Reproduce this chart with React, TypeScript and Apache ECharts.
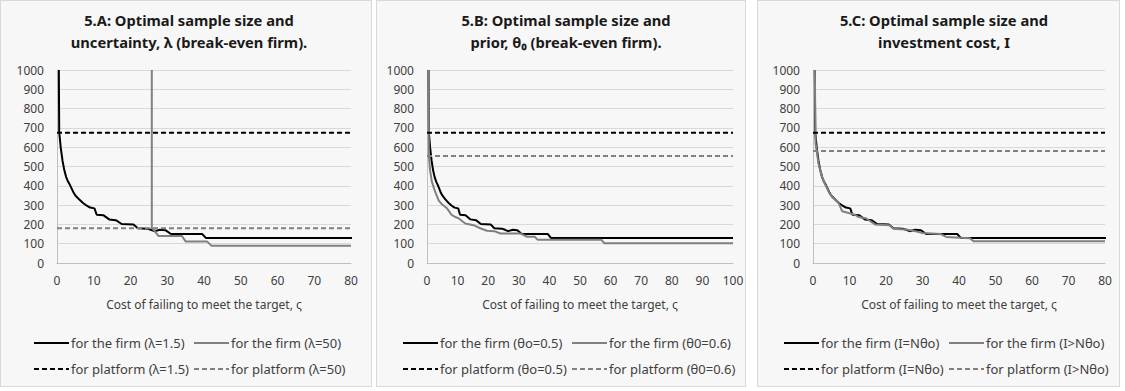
import { useEffect, useRef } from "react";
import * as echarts from "echarts";

const FONT = '"Noto Sans", "DejaVu Sans", sans-serif';

// Firm's optimal sample size, baseline (λ=1.5, θo=0.5, I=Nθo): [cost ς, sample size]
const firmBase: [number, number][] = [
  [0.5, 1000], [0.6, 680], [1, 600], [1.5, 530], [2, 480], [2.5, 445], [3, 422],
  [3.5, 405], [4, 385], [4.5, 365], [5, 350], [6, 330], [7, 312], [8, 298], [9, 287],
  [10.2, 283], [10.8, 250], [12.6, 248], [14.2, 226], [16, 222], [17.6, 202],
  [20.8, 200], [22, 180], [24.5, 178], [25.5, 172], [26.5, 165], [28, 172],
  [29.5, 170], [31, 150], [39.5, 150], [40.5, 130], [100, 130],
];
// Panel A: λ=50
const firmLambda50: [number, number][] = [
  [25.8, 1000], [25.8, 180], [26.5, 168], [27.6, 140], [34, 140], [35, 112],
  [40.8, 112], [42, 90], [80, 90],
];
// Panel B: θ0=0.6
const firmTheta06: [number, number][] = [
  [0.5, 1000], [0.6, 560], [1, 480], [1.6, 420], [2.7, 368], [3.8, 325], [4.9, 304],
  [6.5, 284], [8, 250], [9, 240], [10.3, 232], [12.5, 205], [15.2, 196], [17.4, 180],
  [19.6, 167], [22, 165], [24, 153], [30.5, 153], [32.7, 136], [35.2, 136],
  [36.2, 120], [57, 120], [58, 102], [100, 102],
];
// Panel C: I>Nθo
const firmInvHigh: [number, number][] = [
  [0.5, 1000], [0.7, 620], [1.5, 515], [2.5, 445], [3.5, 400], [4.5, 362], [5.5, 338],
  [7, 312], [8, 268], [10, 258], [11.5, 250], [12.5, 238], [14.5, 232], [17, 200],
  [21, 196], [22, 178], [26, 172], [28, 165], [30, 155], [35, 150], [36.5, 135],
  [43, 128], [44, 113], [80, 113],
];
// Platform optimal sample sizes (constant)
const platformBase = 675;
const platformLambda50 = 180;
const platformTheta06 = 555;
const platformInvHigh = 580;

const xMaxes = [80, 100, 80];
const titles = [
  ["5.A: Optimal sample size and", "uncertainty, λ (break-even firm)."],
  ["5.B: Optimal sample size and", "prior, θ₀ (break-even firm)."],
  ["5.C: Optimal sample size and", "investment cost, I"],
];
const names = [
  ["for the firm (λ=1.5)", "for the firm (λ=50)", "for platform (λ=1.5)", "for platform (λ=50)"],
  ["for the firm (θo=0.5)", "for the firm (θ0=0.6)", "for platform (θo=0.5)", "for platform (θ0=0.6)"],
  ["for the firm (I=Nθo)", "for the firm (I>Nθo)", "for platform (I=Nθo)", "for platform (I>Nθo)"],
];
const altFirm = [firmLambda50, firmTheta06, firmInvHigh];
const altPlatform = [platformLambda50, platformTheta06, platformInvHigh];
const xAxisName = "Cost of failing to meet the target, ς";

// layout
const gridLeft = [57, 427, 813];
const gridWidth = [294, 306, 292];
const titleCenter = [189, 566, 944];
const legendCol1 = [33, 402, 783];
const legendCol2 = [193, 571, 948];
const panels = [
  { left: 0, width: 372 },
  { left: 376, width: 370 },
  { left: 757, width: 363 },
];

const BLACK = "#000000";
const GRAY = "#808080";
const TXT = "#404040";

export default function App() {
  const ref = useRef<HTMLDivElement>(null);
  useEffect(() => {
    if (!ref.current) return;
    const chart = echarts.init(ref.current, null, { renderer: "svg" });
    const grids: any[] = [];
    const xAxes: any[] = [];
    const yAxes: any[] = [];
    const series: any[] = [];
    const legends: any[] = [];
    const graphics: any[] = [];
    for (let p = 0; p < 3; p++) {
      grids.push({ left: gridLeft[p], top: 70, width: gridWidth[p], height: 193 });
      xAxes.push({
        type: "value", gridIndex: p, min: 0, max: xMaxes[p], interval: 10,
        axisLine: { show: true, lineStyle: { color: "#bfbfbf", width: 1 } },
        axisTick: { show: false }, splitLine: { show: false },
        axisLabel: { margin: 11, fontSize: 12, color: TXT, fontFamily: FONT },
        name: xAxisName, nameLocation: "middle", nameGap: 35,
        nameTextStyle: { fontSize: 12, color: TXT, fontFamily: FONT },
      });
      yAxes.push({
        type: "value", gridIndex: p, min: 0, max: 1000, interval: 100,
        axisLine: { show: true, lineStyle: { color: "#bfbfbf", width: 1 } },
        axisTick: { show: false },
        splitLine: { show: true, lineStyle: { color: "#d9d9d9", width: 1 } },
        axisLabel: { margin: 13, fontSize: 12, color: TXT, fontFamily: FONT, formatter: (v: number) => String(v) },
      });
      const xm = xMaxes[p];
      const base = { type: "line", xAxisIndex: p, yAxisIndex: p, symbol: "none", showSymbol: false, silent: true };
      series.push({ ...base, name: names[p][0], data: firmBase, lineStyle: { color: BLACK, width: 2 }, itemStyle: { color: BLACK } });
      series.push({ ...base, name: names[p][1], data: altFirm[p], lineStyle: { color: GRAY, width: 2 }, itemStyle: { color: GRAY } });
      series.push({ ...base, name: names[p][2], data: [[0, platformBase], [xm, platformBase]], lineStyle: { color: BLACK, width: 2, type: [5, 3] }, itemStyle: { color: BLACK } });
      series.push({ ...base, name: names[p][3], data: [[0, altPlatform[p]], [xm, altPlatform[p]]], lineStyle: { color: GRAY, width: 2, type: [5, 3] }, itemStyle: { color: GRAY } });
      const leg = (i: number, left: number, top: number) => ({
        data: [names[p][i]], left, top, padding: 0, itemWidth: 35, itemHeight: 14, itemGap: 0,
        selectedMode: false, orient: "horizontal",
        itemStyle: { opacity: 0 },
        textStyle: { fontSize: 13, color: TXT, fontFamily: FONT, lineHeight: 14, padding: [0, 0, 0, -3] },
      });
      legends.push(leg(0, legendCol1[p], 336));
      legends.push(leg(1, legendCol2[p], 336));
      legends.push(leg(2, legendCol1[p], 362));
      legends.push(leg(3, legendCol2[p], 362));
      titles[p].forEach((t, i) => {
        graphics.push({
          type: "text", x: titleCenter[p], y: 20 + i * 22,
          style: {
            text: t, fill: "#1a1a1a", fontSize: 14.7, fontWeight: "bold", fontFamily: FONT,
            align: "center", verticalAlign: "middle", textAlign: "center", textVerticalAlign: "middle",
          },
        });
      });
    }
    chart.setOption({
      animation: false,
      grid: grids, xAxis: xAxes, yAxis: yAxes, series, legend: legends, graphic: graphics,
    });
    return () => chart.dispose();
  }, []);
  return (
    <div style={{ position: "absolute", left: 0, top: 0, width: 1125, height: 391, background: "#ffffff" }}>
      {panels.map((pn, i) => (
        <div key={i} style={{ position: "absolute", left: pn.left, top: 0, width: pn.width, height: 387, background: "#f7f7f7", border: "1px solid #d9d9d9", boxSizing: "border-box" }} />
      ))}
      <div ref={ref} style={{ position: "absolute", left: 0, top: 0, width: 1125, height: 391 }} />
    </div>
  );
}
